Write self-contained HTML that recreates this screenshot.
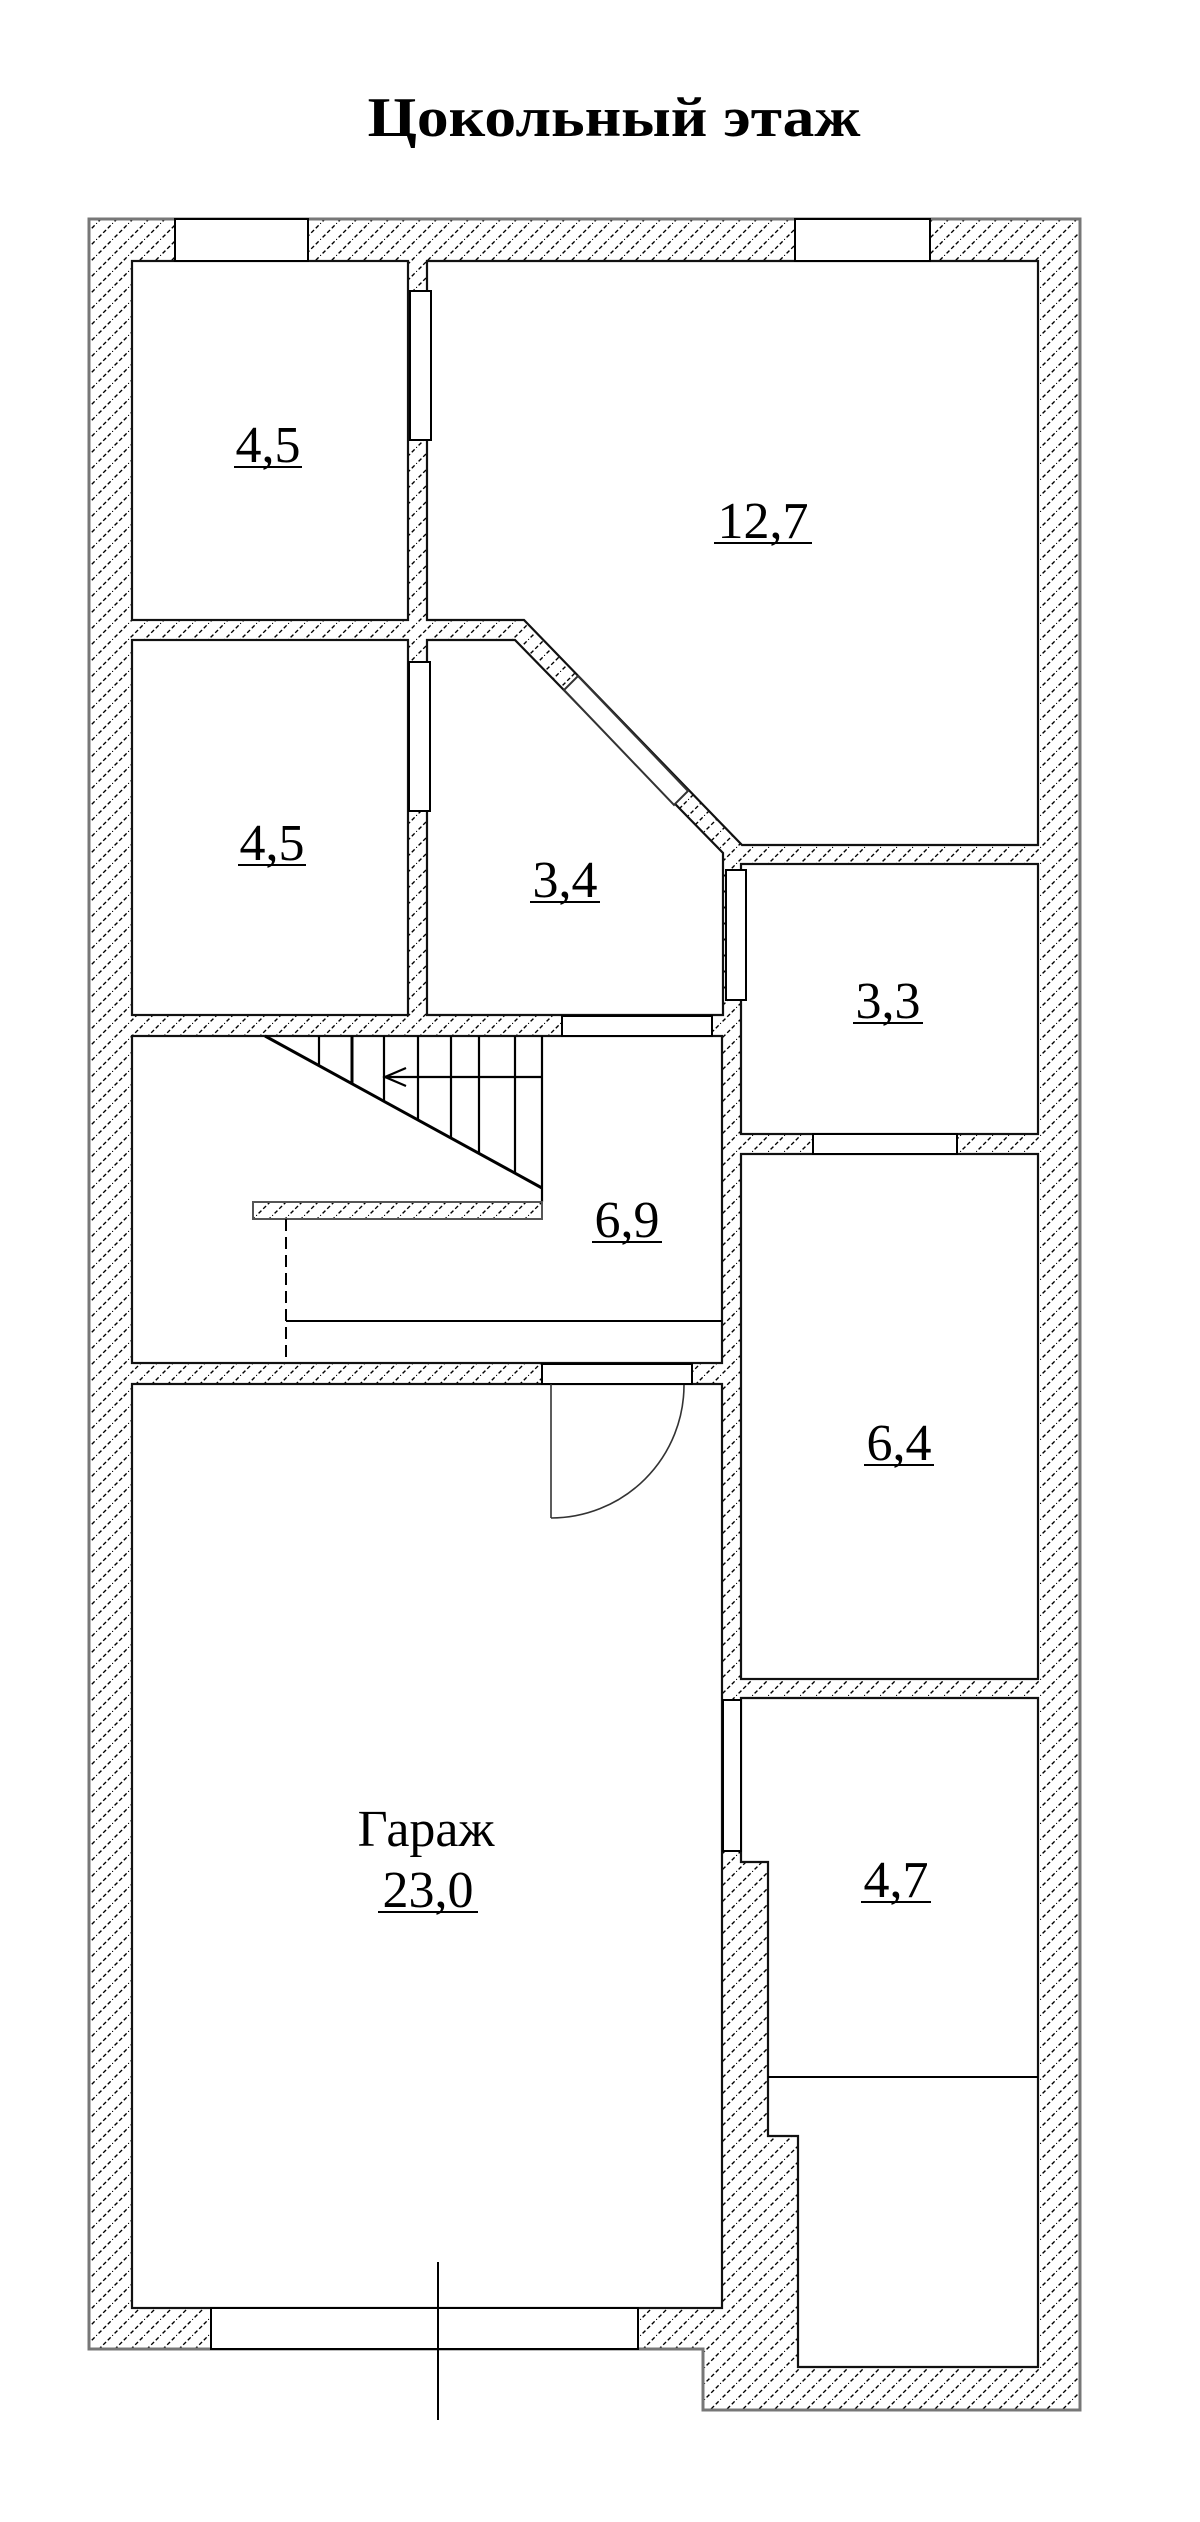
<!DOCTYPE html>
<html><head><meta charset="utf-8"><style>
html,body{margin:0;padding:0;background:#fff;}
svg{display:block;}
</style></head><body>
<svg width="1200" height="2522" viewBox="0 0 1200 2522" xmlns="http://www.w3.org/2000/svg">
<defs>
<pattern id="h" patternUnits="userSpaceOnUse" width="16" height="16">
<line x1="-2" y1="18" x2="18" y2="-2" stroke="#000" stroke-width="1.4" stroke-dasharray="4 2.5"/>
</pattern>
</defs>
<rect width="1200" height="2522" fill="#fff"/>
<text x="614" y="136" text-anchor="middle" font-family="Liberation Serif, serif" font-weight="bold" font-size="56" textLength="493" lengthAdjust="spacingAndGlyphs">Цокольный этаж</text>

<polygon points="89,219 1080,219 1080,2410 703,2410 703,2349 89,2349" fill="url(#h)" stroke="#777" stroke-width="3"/>

<g fill="#fff" stroke="#111" stroke-width="2.2">
<rect x="132" y="261" width="276" height="359"/>
<polygon points="427,261 1038,261 1038,845 742,845 524,620 427,620"/>
<rect x="132" y="640" width="276" height="375"/>
<polygon points="427,640 515,640 723,853 723,1015 427,1015"/>
<rect x="741" y="864" width="297" height="270"/>
<rect x="132" y="1036" width="590" height="327"/>
<rect x="741" y="1154" width="297" height="525"/>
<rect x="132" y="1384" width="590" height="924"/>
<polygon points="741,1698 1038,1698 1038,2367 798,2367 798,2136 768,2136 768,1862 741,1862"/>
</g>

<g fill="#fff" stroke="#000" stroke-width="2">
<rect x="175" y="219" width="133" height="42"/>
<rect x="795" y="219" width="135" height="42"/>
<rect x="410" y="291" width="21" height="149"/>
<rect x="409" y="662" width="21" height="149"/>
<rect x="726" y="870" width="20" height="130"/>
<rect x="562" y="1016" width="150" height="20"/>
<rect x="813" y="1134" width="144" height="20"/>
<rect x="542" y="1364" width="150" height="20"/>
<rect x="723" y="1700" width="18" height="151"/>
<rect x="211" y="2308" width="427" height="41"/>
</g>
<polygon points="578,676 688,791 674,805 564,690" fill="#fff" stroke="#333" stroke-width="2"/>

<g stroke="#000" stroke-width="2.2" fill="none">
<line x1="265" y1="1036" x2="542" y2="1188" stroke-width="3"/>
<line x1="319" y1="1036" x2="319" y2="1066"/>
<line x1="352" y1="1036" x2="352" y2="1084" stroke-width="3"/>
<line x1="384" y1="1036" x2="384" y2="1101"/>
<line x1="418" y1="1036" x2="418" y2="1120"/>
<line x1="451" y1="1036" x2="451" y2="1138"/>
<line x1="479" y1="1036" x2="479" y2="1153"/>
<line x1="515" y1="1036" x2="515" y2="1173"/>
<line x1="542" y1="1036" x2="542" y2="1202"/>
<line x1="384" y1="1077" x2="542" y2="1077"/>
<polyline points="406,1068 385,1077 406,1086"/>
</g>
<rect x="253" y="1202" width="289" height="17" fill="url(#h)" stroke="#555" stroke-width="2"/>
<line x1="286" y1="1219" x2="286" y2="1363" stroke="#000" stroke-width="2" stroke-dasharray="12 6"/>
<line x1="286" y1="1321" x2="722" y2="1321" stroke="#000" stroke-width="2"/>

<line x1="551" y1="1384" x2="551" y2="1518" stroke="#333" stroke-width="1.6"/>
<path d="M551,1518 A133,133 0 0 0 684,1385" fill="none" stroke="#333" stroke-width="1.6"/>

<line x1="768" y1="2077" x2="1038" y2="2077" stroke="#000" stroke-width="2"/>
<line x1="438" y1="2262" x2="438" y2="2420" stroke="#000" stroke-width="2"/>

<g font-family="Liberation Serif, serif" font-size="52" text-anchor="middle" fill="#000">
<text x="268" y="462">4,5</text>
<text x="763" y="538">12,7</text>
<text x="272" y="860">4,5</text>
<text x="565" y="897">3,4</text>
<text x="888" y="1018">3,3</text>
<text x="627" y="1237">6,9</text>
<text x="899" y="1460">6,4</text>
<text x="426" y="1846">Гараж</text>
<text x="428" y="1907">23,0</text>
<text x="896" y="1897">4,7</text>
</g>
<g stroke="#000" stroke-width="2">
<line x1="234" y1="467" x2="302" y2="467"/>
<line x1="714" y1="543" x2="812" y2="543"/>
<line x1="238" y1="865" x2="306" y2="865"/>
<line x1="530" y1="902" x2="600" y2="902"/>
<line x1="853" y1="1023" x2="923" y2="1023"/>
<line x1="592" y1="1242" x2="662" y2="1242"/>
<line x1="864" y1="1465" x2="934" y2="1465"/>
<line x1="378" y1="1912" x2="478" y2="1912"/>
<line x1="861" y1="1902" x2="931" y2="1902"/>
</g>
</svg>
</body></html>
